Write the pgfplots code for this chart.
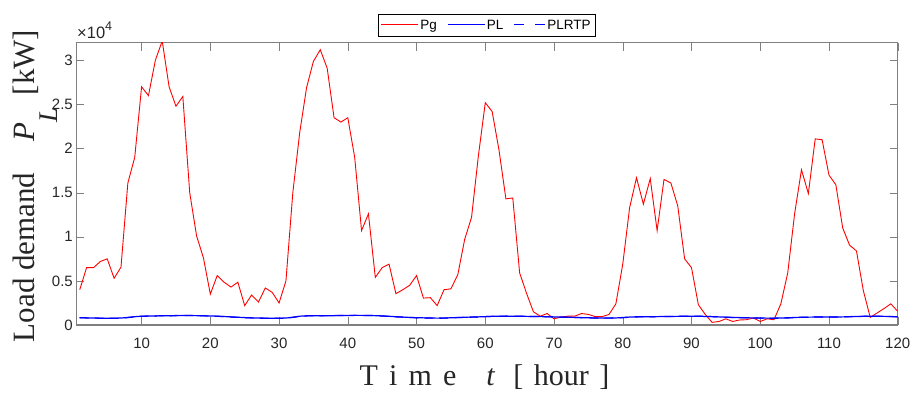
\documentclass[border=0pt]{standalone}
\usepackage{pgfplots}
\usepackage{pgfplotstable}
\pgfplotsset{compat=1.18}
\usepackage{fontspec}
\setmainfont{Liberation Sans}
\newfontfamily\timesfont{Liberation Serif}
\usetikzlibrary{calc}
\definecolor{axgray}{RGB}{128,128,128}
\definecolor{txtgray}{RGB}{38,38,38}
\pgfplotsset{
  legline/.style={legend image code/.code={\node[inner sep=0pt,anchor=west] at (0pt,0pt) {\textcolor{#1}{\rule[-0.45pt]{37pt}{0.9pt}}};}},
  legdash/.style={legend image code/.code={\node[inner sep=0pt,anchor=west] at (0pt,0pt) {\textcolor{#1}{\rule[-0.45pt]{10pt}{0.9pt}\hspace{11pt}\rule[-0.45pt]{10pt}{0.9pt}}};}},
}

\pgfplotstableread{
x Pg PL PLRTP
1 4000 830 820
2 6500 810 800
3 6500 790 785
4 7200 780 770
5 7500 770 765
6 5300 770 760
7 6550 790 780
8 16100 860 840
9 19000 940 920
10 27000 1000 990
11 26000 1020 1010
12 30000 1030 1030
13 32200 1040 1045
14 27000 1050 1055
15 24800 1060 1070
16 25900 1070 1080
17 15000 1070 1075
18 10100 1060 1060
19 7600 1040 1035
20 3500 1030 1020
21 5600 1000 990
22 4850 960 950
23 4300 920 905
24 4850 880 865
25 2200 840 830
26 3400 810 800
27 2600 790 780
28 4200 780 770
29 3700 770 765
30 2500 770 760
31 5000 790 780
32 15000 880 860
33 21800 1000 980
34 26900 1040 1030
35 29900 1050 1050
36 31200 1050 1055
37 29100 1060 1065
38 23500 1060 1070
39 23000 1070 1080
40 23500 1080 1090
41 19000 1090 1095
42 10700 1090 1090
43 12600 1080 1080
44 5400 1060 1055
45 6500 1030 1020
46 6900 990 980
47 3550 940 925
48 4000 900 885
49 4500 860 850
50 5600 830 820
51 3050 810 800
52 3100 790 785
53 2200 780 770
54 4000 790 780
55 4100 820 810
56 5700 850 840
57 9700 880 870
58 12200 900 890
59 19200 920 915
60 25200 950 950
61 24200 980 985
62 19800 990 1000
63 14300 1000 1010
64 14400 1000 1005
65 5900 990 995
66 3600 980 985
67 1500 960 965
68 1000 950 950
69 1300 940 935
70 700 920 910
71 900 900 890
72 1000 880 870
73 1000 860 850
74 1300 840 830
75 1200 820 810
76 950 800 790
77 950 790 780
78 1200 790 780
79 2400 800 790
80 6900 850 830
81 13300 900 880
82 16700 930 915
83 13700 940 930
84 16600 940 935
85 10700 950 950
86 16500 960 960
87 16100 970 975
88 13500 980 985
89 7500 990 995
90 6500 1000 1005
91 2300 990 995
92 1200 970 975
93 300 950 950
94 400 920 915
95 700 890 880
96 400 860 850
97 570 840 830
98 600 820 810
99 800 800 790
100 400 790 780
101 700 780 770
102 600 780 770
103 2400 790 780
104 5900 820 800
105 12600 850 835
106 17600 880 870
107 14900 890 885
108 21100 900 900
109 21000 900 905
110 17000 900 905
111 15900 910 915
112 11000 920 930
113 9050 940 950
114 8400 960 970
115 3900 980 985
116 870 990 990
117 1360 990 985
118 1860 980 975
119 2400 960 950
120 1550 940 925
}\datatable

\begin{document}
\begin{tikzpicture}
\begin{axis}[
  scale only axis, width=821.4pt, height=282.3pt,
  xmin=0.5, xmax=120, ymin=0, ymax=32000,
  xtick={10,20,...,120},
  ytick={0,5000,10000,15000,20000,25000,30000},
  yticklabels={0,0.5,1,1.5,2,2.5,3},
  scaled y ticks=false, scaled x ticks=false,
  /pgf/number format/assume math mode=true,
  ticklabel style={font=\fontsize{15}{15}\selectfont, text=txtgray},
  xticklabel style={yshift=-9pt},
  axis line style={axgray, line width=1.3pt},
  major tick length=8pt,
  tick align=inside,
  legend columns=-1,
  legend style={at={(rel axis cs:0.5,1)}, anchor=south, yshift=6pt,
    font=\fontsize{13.5}{13.5}\selectfont,
    inner xsep=3pt, inner ysep=4pt,
    /tikz/every even column/.append style={column sep=9pt}},
]
\addplot[color=red, line width=0.9pt, legline=red] table[x=x, y=Pg] {\datatable};
\addlegendentry{Pg}
\addplot[color=blue, line width=1.2pt, legline=blue] table[x=x, y=PL] {\datatable};
\addlegendentry{PL}
\addplot[color=blue, line width=1.2pt, dash pattern=on 9pt off 6pt, legdash=blue] table[x=x, y=PLRTP] {\datatable};
\addlegendentry{PLRTP}
\coordinate (ll) at (rel axis cs:0,0);
\coordinate (ur) at (rel axis cs:1,1);
\coordinate (ul) at (rel axis cs:0,1);
\end{axis}
\node[anchor=base west, inner sep=0pt, text=txtgray, font=\fontsize{16.5}{16.5}\selectfont]
  at ([shift={(0.7pt,4.7pt)}]ul) {×10\raisebox{0.45em}{\fontsize{12.5}{12.5}\selectfont 4}};
\node[rotate=90, anchor=base, inner sep=0pt, text=txtgray]
  at ([shift={(-41.3pt,139pt)}]ll)
  {\timesfont\fontsize{31}{31}\selectfont Load demand\hspace{1em}\textit{P}\raisebox{-0.72em}{\fontsize{27}{27}\selectfont\textit{L}}\hspace{0.4em}[kW]};
\node[anchor=base, inner sep=0pt, text=txtgray]
  at ([shift={(408.2pt,-60pt)}]ll)
  {\timesfont\fontsize{30}{30}\selectfont T\hspace{0.37em}i\hspace{0.37em}m\hspace{0.37em}e\hspace{1em}\textit{t}\hspace{0.6em}[\hspace{0.35em}hour\hspace{0.35em}]};
\pgfresetboundingbox
\path[use as bounding box] ([shift={(-76.3pt,-67pt)}]ll) rectangle ([shift={(15.3pt,42.7pt)}]ur);
\end{tikzpicture}
\end{document}
